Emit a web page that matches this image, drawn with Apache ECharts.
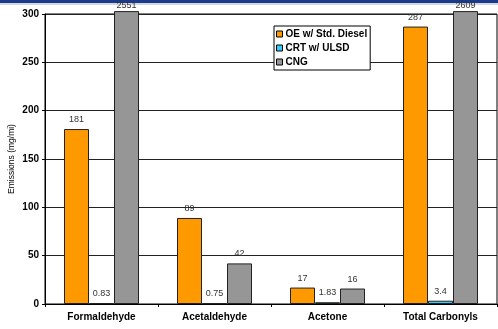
<!DOCTYPE html>
<html>
<head>
<meta charset="utf-8">
<script src="https://cdn.jsdelivr.net/npm/echarts@6/dist/echarts.min.js"></script>
<style>html,body{margin:0;padding:0;background:#fff;}#c{width:498px;height:329px;}</style>
</head>
<body>
<div id="c"></div>
<script>
var categories = ['Formaldehyde', 'Acetaldehyde', 'Acetone', 'Total Carbonyls'];
var seriesNames = ['OE w/ Std. Diesel', 'CRT w/ ULSD', 'CNG'];
var oeValues = [181, 89, 17, 287];
var crtValues = [0.83, 0.75, 1.83, 3.4];
var cngValues = [2551, 42, 16, 2609];
var yTicks = [0, 50, 100, 150, 200, 250, 300];

var colors = ['#FF9900', '#33CCFF', '#969696'];
var yMax = 300;
var cap = 303; // bars beyond axis max run just past the plot top, as in the original

function mk(vals) {
  return vals.map(function (v) {
    var over = v > yMax;
    return { value: over ? cap : v, realValue: v, label: over ? { distance: 1 } : undefined };
  });
}

var chart = echarts.init(document.getElementById('c'), null, { renderer: 'canvas' });
var allVals = [oeValues, crtValues, cngValues];
var series = allVals.map(function (vals, i) {
  return {
    name: seriesNames[i],
    type: 'bar',
    clip: false,
    z: 5,
    barWidth: 25,
    barGap: '0%',
    barCategoryGap: '33%',
    data: mk(vals),
    itemStyle: { color: colors[i], borderColor: '#222', borderWidth: 1 },
    label: {
      show: true,
      position: 'top',
      distance: 5,
      fontFamily: 'Arial, Liberation Sans',
      fontSize: 9,
      color: '#333',
      formatter: function (p) { return String(p.data.realValue); }
    }
  };
});

chart.setOption({
  animation: false,
  graphic: [
    { type: 'rect', z: -10, silent: true, shape: { x: 0, y: 0, width: 498, height: 3 }, style: { fill: '#1c3a8a' } },
    { type: 'rect', z: -10, silent: true, shape: { x: 0, y: 3, width: 498, height: 2 }, style: { fill: '#d0d6e4' } }
  ],
  grid: { left: 45, top: 14, right: 1, bottom: 25, show: true, borderColor: '#000', borderWidth: 1, backgroundColor: 'transparent', outerBoundsMode: 'none', containLabel: false },
  legend: {
    orient: 'vertical',
    left: 274,
    top: 26,
    itemWidth: 6,
    itemHeight: 6,
    itemGap: 2,
    padding: [2, 3, 2, 2],
    borderColor: '#000',
    borderWidth: 1,
    backgroundColor: '#fff',
    icon: 'rect',
    z: 10,
    textStyle: { fontFamily: 'Arial, Liberation Sans', fontSize: 10, fontWeight: 'bold', color: '#000', padding: [0, 0, 0, -2], lineHeight: 12 },
    itemStyle: { borderColor: '#000', borderWidth: 1 },
    data: seriesNames
  },
  xAxis: {
    type: 'category',
    data: categories,
    axisLine: { lineStyle: { color: '#000', width: 1 } },
    axisTick: { show: true, alignWithLabel: false, length: 3, lineStyle: { color: '#000' } },
    axisLabel: { fontFamily: 'Arial, Liberation Sans', fontSize: 10, fontWeight: 'bold', color: '#000', margin: 8 }
  },
  yAxis: {
    type: 'value',
    min: 0,
    max: yMax,
    interval: 50,
    name: 'Emissions (mg/mi)',
    nameLocation: 'middle',
    nameGap: 29,
    nameMoveOverlap: false,
    nameTextStyle: { fontFamily: 'Arial, Liberation Sans', fontSize: 8.5, fontWeight: 'normal', color: '#000' },
    axisLine: { show: true, lineStyle: { color: '#000', width: 1 } },
    axisTick: { show: true, length: 3, lineStyle: { color: '#000' } },
    splitLine: { show: true, lineStyle: { color: '#222', width: 1 } },
    axisLabel: {
      fontFamily: 'Arial, Liberation Sans', fontSize: 10, fontWeight: 'bold', color: '#000', margin: 6,
      formatter: function (v) { return yTicks.indexOf(v) >= 0 ? String(v) : ''; }
    }
  },
  series: series
});
</script>
</body>
</html>
